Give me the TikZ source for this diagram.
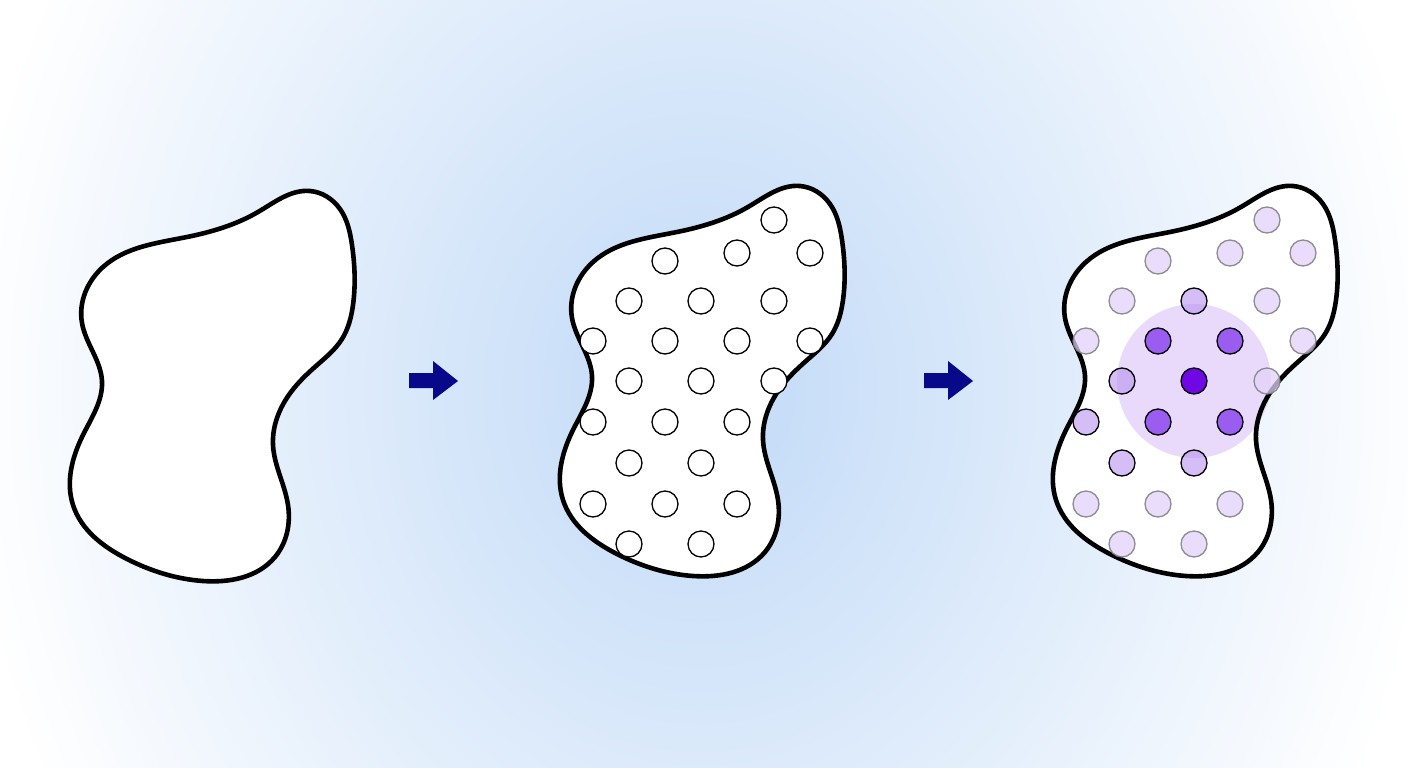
\documentclass[tikz,border=0pt]{standalone}
\usetikzlibrary{hobby}
\definecolor{bgc}{RGB}{200,222,248}
\definecolor{navyarrow}{RGB}{8,8,138}
\definecolor{halo}{RGB}{232,217,252}
\definecolor{lightdot}{RGB}{228,210,250}
\definecolor{ringdot}{RGB}{186,146,240}
\definecolor{neardot}{RGB}{155,92,240}
\definecolor{centerdot}{RGB}{112,8,230}
\definecolor{lightedge}{RGB}{130,130,130}
\pgfdeclareradialshading{bgglow}{\pgfpoint{0bp}{0bp}}{color(0bp)=(bgc); color(3bp)=(bgc); color(25bp)=(white); color(50bp)=(white)}
\tikzset{
  blobline/.style={line width=4.6pt, draw=black, line join=round},
  dotbase/.style={circle, minimum size=26pt, inner sep=0pt, line width=1.3pt},
  plaindot/.style={dotbase, draw=black, fill=white},
  lightpt/.style={dotbase, draw=lightedge, fill=lightdot, fill opacity=0.75, draw opacity=0.9},
  ringpt/.style={dotbase, draw=black, fill=ringdot, fill opacity=0.6},
  nearpt/.style={dotbase, draw=black, fill=neardot},
  centerpt/.style={dotbase, draw=black, fill=centerdot},
  arrowshape/.style={fill=navyarrow, draw=none},
}
\def\blobpath{plot[closed hobby] coordinates {
 (800,186) (830,204) (842,240) (843,300) (832,334) (806,361) (781,387) (763,440) (778,500)
 (765,552) (693,576) (617,554) (563,500) (573,430) (592,376) (572,318)
 (593,262) (677,232) (748,207)}}
\begin{document}
\begin{tikzpicture}[x=1pt,y=-1pt]
\useasboundingbox (0,0) rectangle (1408,768);
\fill[white] (0,0) rectangle (1408,768);
\begin{scope}
\clip (0,0) rectangle (1408,768);
\shade[shading=bgglow] (700,390) ellipse (740 and 870);
\end{scope}

% blob 1
\begin{scope}[shift={(-490,5)}]
\filldraw[blobline, fill=white] \blobpath;
\end{scope}

% arrows
\fill[arrowshape] (409,373) -- (433,373) -- (433,361) -- (458,381) -- (433,400) -- (433,388) -- (409,388) -- cycle;
\fill[arrowshape] (924,373) -- (948,373) -- (948,361) -- (973,381) -- (948,400) -- (948,388) -- (924,388) -- cycle;

% blob 2 with plain dots
\filldraw[blobline, fill=white] \blobpath;
\foreach \n/\x/\y in {a1/774/220, b1/665/261, b2/737/253, b3/810/253,
  c1/629/301, c2/701/301, c3/774/301,
  d1/593/341, d2/665/341, d3/737/341, d4/810/341,
  e1/629/381, e2/701/381, e3/774/381,
  f1/593/422, f2/665/422, f3/737/422,
  g1/629/463, g2/701/463,
  h1/593/504, h2/665/504, h3/737/504,
  i1/629/544, i2/701/544}
  \node[plaindot] (m\n) at (\x,\y) {};

% blob 3
\begin{scope}[shift={(493,0)}]
\fill[white] \blobpath;
\fill[halo, fill opacity=0.95] (701,381) circle (77);
\draw[blobline] \blobpath;
\foreach \n/\x/\y in {a1/774/220, b1/665/261, b2/737/253, b3/810/253,
  c1/629/301, c3/774/301,
  d1/593/341, d4/810/341,
  e3/774/381,
  h1/593/504, h2/665/504, h3/737/504,
  i1/629/544, i2/701/544}
  \node[lightpt] (r\n) at (\x,\y) {};
\foreach \n/\x/\y in {c2/701/301, e1/629/381, f1/593/422, g1/629/463, g2/701/463}
  \node[ringpt] (r\n) at (\x,\y) {};
\foreach \n/\x/\y in {d2/665/341, d3/737/341, f2/665/422, f3/737/422}
  \node[nearpt] (r\n) at (\x,\y) {};
\node[centerpt] (re2) at (701,381) {};
\end{scope}
\end{tikzpicture}
\end{document}
